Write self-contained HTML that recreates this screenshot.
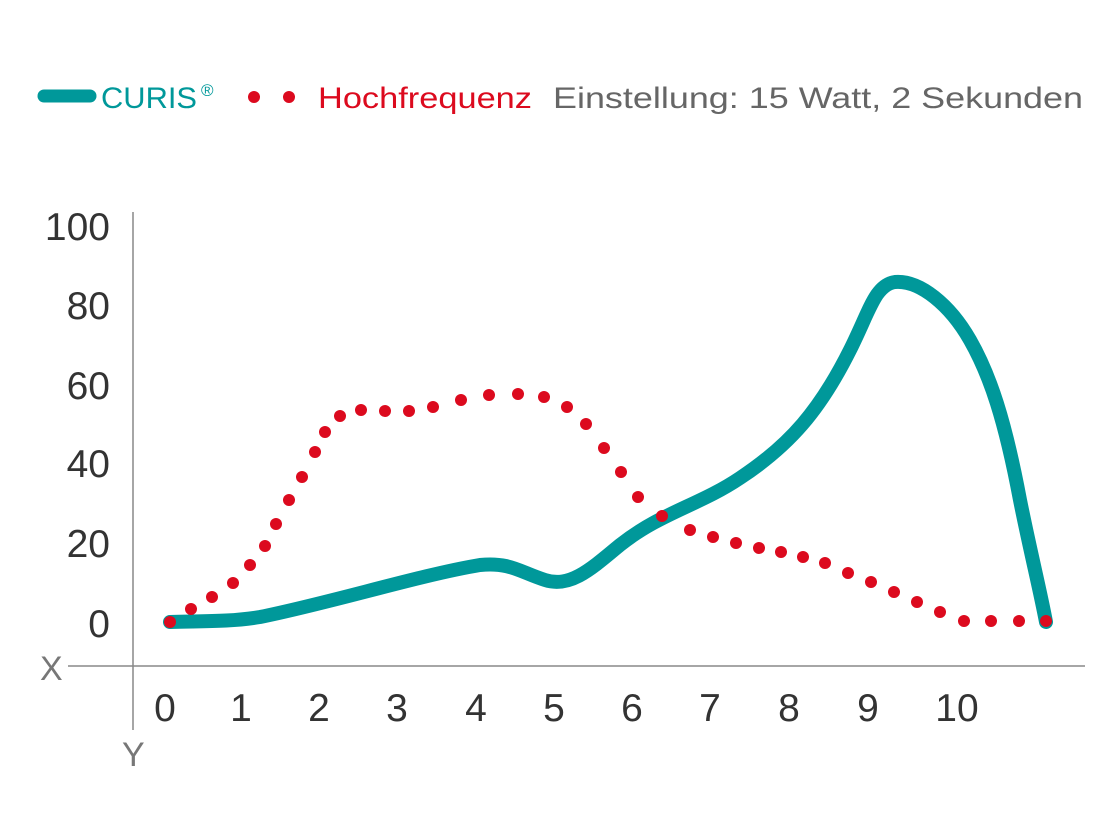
<!DOCTYPE html>
<html><head><meta charset="utf-8"><style>
html,body{margin:0;padding:0;background:#fff;}
svg{display:block;}
text{font-family:"Liberation Sans",sans-serif;}
</style></head><body>
<svg width="1120" height="840" viewBox="0 0 1120 840" xmlns="http://www.w3.org/2000/svg">
<line x1="44" y1="96" x2="90" y2="96" stroke="#00989a" stroke-width="13" stroke-linecap="round"/>
<text x="101" y="108" font-size="30" fill="#00989a" textLength="96" lengthAdjust="spacingAndGlyphs">CURIS</text>
<text x="201" y="96" font-size="17" fill="#00989a">®</text>
<circle cx="254" cy="97" r="6" fill="#dc0a1e"/>
<circle cx="289" cy="97" r="6" fill="#dc0a1e"/>
<text x="318" y="108" font-size="30" fill="#dc0a1e" textLength="214" lengthAdjust="spacingAndGlyphs">Hochfrequenz</text>
<text x="553" y="108" font-size="30" fill="#666" textLength="530" lengthAdjust="spacingAndGlyphs">Einstellung: 15 Watt, 2 Sekunden</text>
<line x1="133" y1="212" x2="133" y2="730" stroke="#888" stroke-width="1.5"/>
<line x1="68" y1="666" x2="1085" y2="666" stroke="#888" stroke-width="1.5"/>
<text x="40" y="680" font-size="34" fill="#777">X</text>
<text x="122" y="766" font-size="34" fill="#777">Y</text>
<g font-size="39" fill="#333" text-anchor="end">
<text x="110" y="240">100</text><text x="110" y="319">80</text><text x="110" y="399">60</text>
<text x="110" y="477">40</text><text x="110" y="557">20</text><text x="110" y="637">0</text>
</g>
<g font-size="39" fill="#333" text-anchor="middle">
<text x="165" y="721">0</text><text x="241" y="721">1</text><text x="319" y="721">2</text><text x="397" y="721">3</text>
<text x="476" y="721">4</text><text x="554" y="721">5</text><text x="632" y="721">6</text><text x="710" y="721">7</text>
<text x="789" y="721">8</text><text x="868" y="721">9</text><text x="957" y="721">10</text>
</g>
<path d="M170,622 C200,621 230,622 260,617 C330,603 420,575 480,565 C510,562 520,572 545,580 C570,588 590,570 620,545 C660,513 700,505 740,478 C790,445 820,410 850,350 C870,310 875,285 895,282 C920,280 950,305 970,340 C990,375 1005,420 1020,500 C1030,550 1040,590 1046,622" fill="none" stroke="#00989a" stroke-width="14" stroke-linecap="round" stroke-linejoin="round"/>
<g fill="#dc0a1e">
<circle cx="170" cy="622" r="6"/><circle cx="191" cy="609" r="6"/><circle cx="212" cy="597" r="6"/><circle cx="233" cy="583" r="6"/>
<circle cx="250" cy="565" r="6"/><circle cx="265" cy="546" r="6"/><circle cx="276" cy="524" r="6"/><circle cx="289" cy="500" r="6"/>
<circle cx="302" cy="477" r="6"/><circle cx="315" cy="452" r="6"/><circle cx="325" cy="432" r="6"/><circle cx="340" cy="416" r="6"/>
<circle cx="361" cy="410" r="6"/><circle cx="385" cy="411" r="6"/><circle cx="409" cy="411" r="6"/><circle cx="433" cy="407" r="6"/>
<circle cx="461" cy="400" r="6"/><circle cx="489" cy="395" r="6"/><circle cx="518" cy="394" r="6"/><circle cx="544" cy="397" r="6"/>
<circle cx="567" cy="407" r="6"/><circle cx="586" cy="424" r="6"/><circle cx="604" cy="448" r="6"/><circle cx="621" cy="472" r="6"/>
<circle cx="638" cy="497" r="6"/><circle cx="662" cy="516" r="6"/><circle cx="690" cy="530" r="6"/><circle cx="713" cy="537" r="6"/>
<circle cx="736" cy="543" r="6"/><circle cx="759" cy="548" r="6"/><circle cx="781" cy="552" r="6"/><circle cx="803" cy="557" r="6"/>
<circle cx="825" cy="563" r="6"/><circle cx="848" cy="573" r="6"/><circle cx="871" cy="582" r="6"/><circle cx="894" cy="592" r="6"/>
<circle cx="917" cy="602" r="6"/><circle cx="940" cy="612" r="6"/><circle cx="964" cy="621" r="6"/><circle cx="991" cy="621" r="6"/>
<circle cx="1019" cy="621" r="6"/><circle cx="1046" cy="621" r="6"/>
</g>
</svg>
</body></html>
